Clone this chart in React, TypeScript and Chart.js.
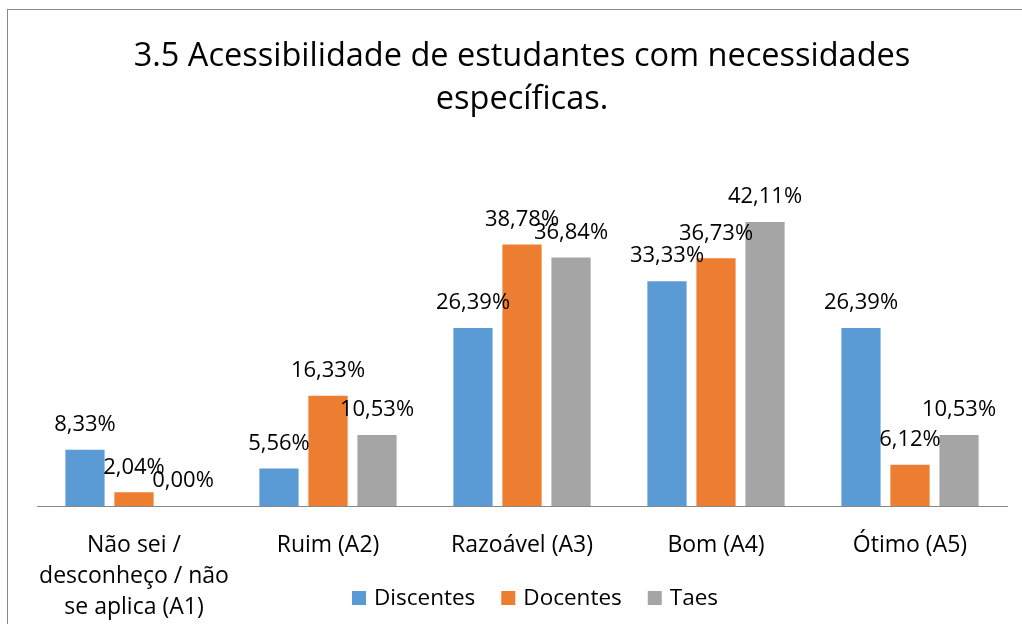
import React, { useEffect, useRef } from "react";
import { Chart, registerables } from "chart.js";

Chart.register(...registerables);

const titleLines = ["3.5 Acessibilidade de estudantes com necessidades", "específicas."];
const categories: string[][] = [
  ["Não sei /", "desconheço / não", "se aplica (A1)"],
  ["Ruim (A2)"],
  ["Razoável (A3)"],
  ["Bom (A4)"],
  ["Ótimo (A5)"],
];
const seriesNames = ["Discentes", "Docentes", "Taes"];
const discentes = [8.33, 5.56, 26.39, 33.33, 26.39];
const docentes = [2.04, 16.33, 38.78, 36.73, 6.12];
const taes = [0.0, 10.53, 36.84, 42.11, 10.53];
const colors = ["#5B9BD5", "#ED7D31", "#A5A5A5"];

const FONT = "'Open Sans', sans-serif";

const fmt = (v: number) => v.toFixed(2).replace(".", ",") + "%";

const labelPlugin = {
  id: "barLabels",
  afterDatasetsDraw(chart: any) {
    const ctx = chart.ctx;
    ctx.save();
    ctx.font = `22px ${FONT}`;
    ctx.fillStyle = "#000";
    ctx.textAlign = "center";
    ctx.textBaseline = "middle";
    chart.data.datasets.forEach((ds: any, i: number) => {
      const meta = chart.getDatasetMeta(i);
      meta.data.forEach((el: any, j: number) => {
        ctx.fillText(fmt(ds.data[j]), el.x, el.y - 25);
      });
    });
    ctx.restore();
  },
};

const legendPlugin = {
  id: "customLegend",
  afterDraw(chart: any) {
    const ctx = chart.ctx;
    ctx.save();
    ctx.font = `22.5px ${FONT}`;
    ctx.textBaseline = "middle";
    ctx.textAlign = "left";
    const sq = 14;
    const gap = 8;
    const itemGap = 26;
    const widths = chart.data.datasets.map((d: any) => ctx.measureText(d.label).width);
    let total = 0;
    widths.forEach((w: number, i: number) => {
      total += sq + gap + w + (i < widths.length - 1 ? itemGap : 0);
    });
    let x = 535 - total / 2;
    const cy = 598;
    chart.data.datasets.forEach((d: any, i: number) => {
      ctx.fillStyle = d.backgroundColor;
      ctx.fillRect(x, cy - sq / 2, sq, sq);
      x += sq + gap;
      ctx.fillStyle = "#000";
      ctx.fillText(d.label, x, cy + 1);
      x += widths[i] + itemGap;
    });
    ctx.restore();
  },
};

export default function App() {
  const ref = useRef<HTMLCanvasElement | null>(null);
  useEffect(() => {
    if (!ref.current) return;
    const chart = new Chart(ref.current, {
      type: "bar",
      data: {
        labels: categories,
        datasets: [discentes, docentes, taes].map((d, i) => ({
          label: seriesNames[i],
          data: d,
          backgroundColor: colors[i],
          borderWidth: 0,
          categoryPercentage: 0.758,
          barPercentage: 0.8,
        })),
      },
      options: {
        animation: false,
        responsive: false,
        devicePixelRatio: 1,
        layout: { padding: { left: 37, right: 15, top: 0, bottom: 0 } },
        plugins: {
          legend: { display: false },
          tooltip: { enabled: false },
          title: {
            display: true,
            text: titleLines,
            color: "#000",
            font: { family: FONT, size: 32.5, weight: "normal", lineHeight: 1.323 },
            padding: { top: 35.5, bottom: 81 },
          },
        },
        scales: {
          x: {
            grid: { display: false, drawTicks: false },
            border: { display: true, color: "#898989", width: 1 },
            ticks: {
              color: "#000",
              font: { family: FONT, size: 23, lineHeight: 1.348 },
              padding: 23.5,
              maxRotation: 0,
              autoSkip: false,
            },
            afterFit: (scale: any) => {
              scale.height = 118;
            },
          },
          y: {
            display: false,
            min: 0,
            max: 45,
          },
        },
      },
      plugins: [labelPlugin, legendPlugin],
    });
    return () => chart.destroy();
  }, []);
  return (
    <div>
      <div
        style={{
          position: "fixed",
          left: 7,
          top: 9,
          width: 2000,
          height: 2000,
          border: "1px solid #898989",
          background: "#fff",
        }}
      />
      <canvas
        ref={ref}
        width={1022}
        height={624}
        style={{ position: "fixed", left: 0, top: 0, width: 1022, height: 624 }}
      />
    </div>
  );
}
